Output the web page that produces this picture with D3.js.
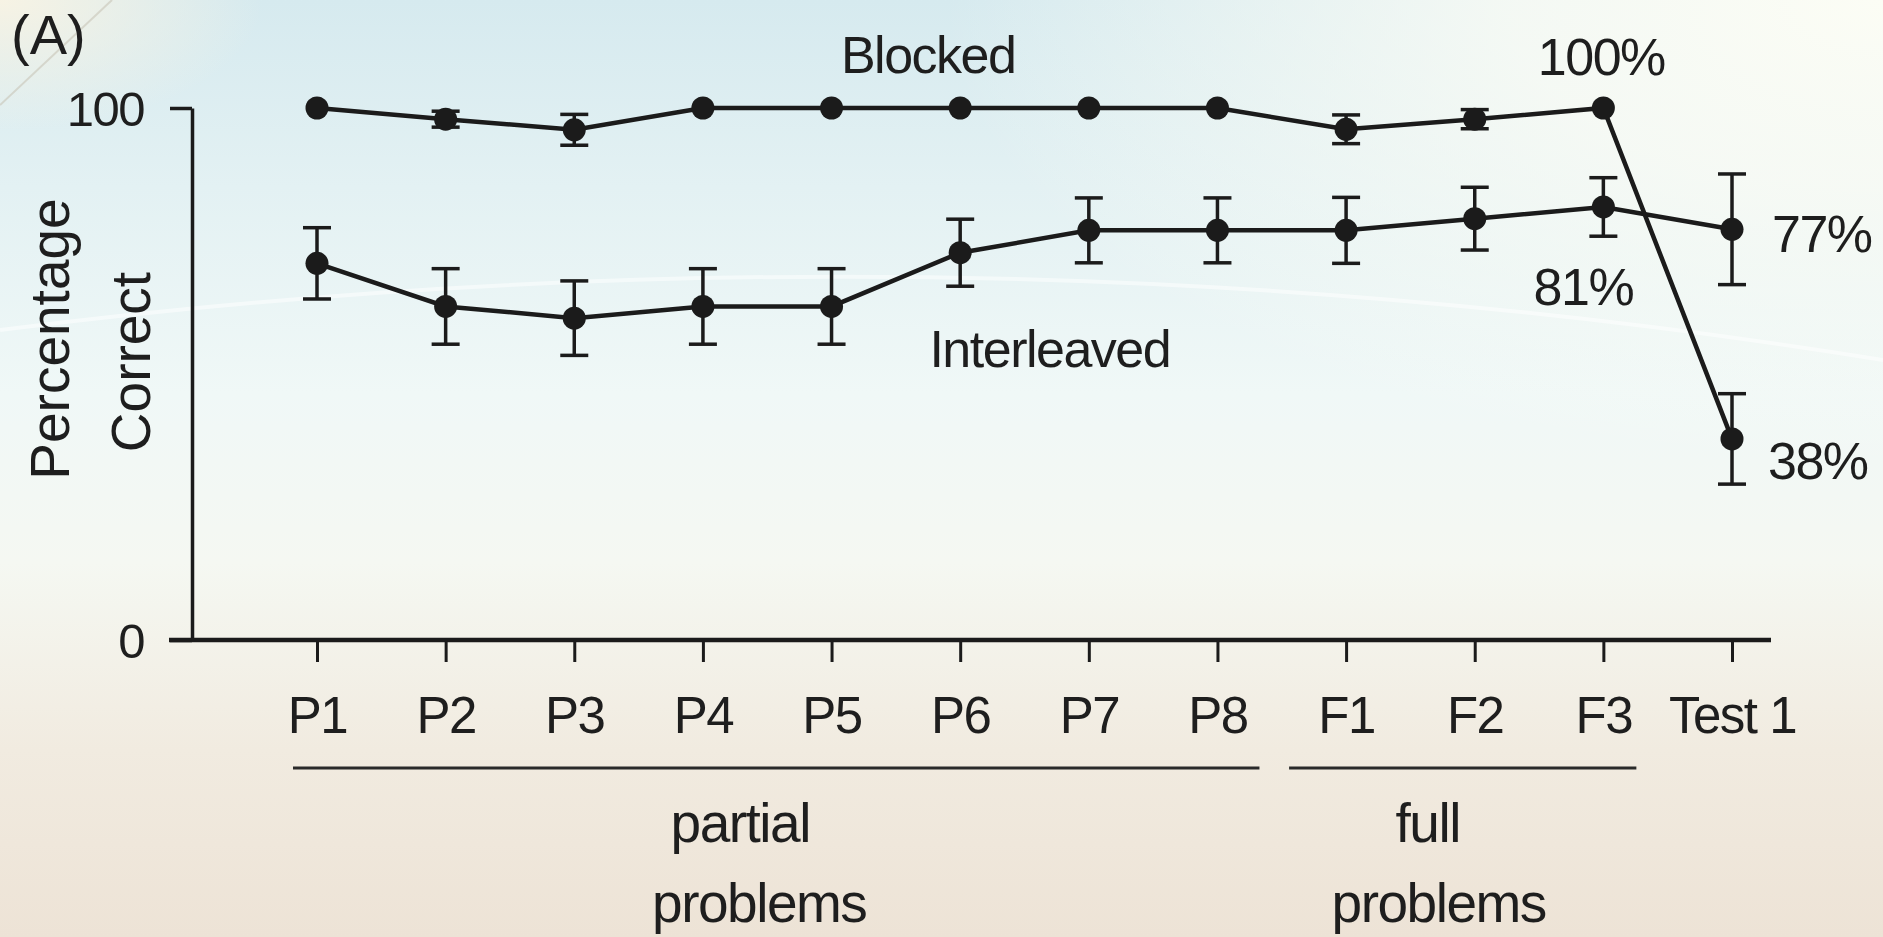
<!DOCTYPE html>
<html><head><meta charset="utf-8">
<script src="https://cdn.jsdelivr.net/npm/d3@7"></script>
<style>
html,body{margin:0;padding:0;overflow:hidden;background:#f3f6f1;}
svg text{font-family:"Liberation Sans",Arial,Helvetica,sans-serif;fill:#1e1e1e;}
</style></head>
<body>
<svg id="chart" width="1883" height="937"></svg>
<script>
// ---- data ----
const categories = ["P1","P2","P3","P4","P5","P6","P7","P8","F1","F2","F3","Test 1"];
const blocked = [100, 97.9, 95.9, 100, 100, 100, 100, 100, 96.0, 97.9, 100, 37.8];
const blockedErr = [0, 1.5, 2.9, 0, 0, 0, 0, 0, 2.7, 1.8, 0, 8.5];
const interleaved = [70.8, 62.7, 60.5, 62.7, 62.7, 72.8, 77.0, 77.0, 77.0, 79.2, 81.4, 77.2];
const interleavedErr = [6.7, 7.1, 7.0, 7.1, 7.1, 6.3, 6.1, 6.1, 6.2, 5.9, 5.5, 10.4];
const yTicks = [0, 100];
const groups = [
  {from:"P1", to:"P8", lines:["partial","problems"]},
  {from:"F1", to:"F3", lines:["full","problems"]}
];
const endLabels = [
  {text:"100%", cat:"F3", value:100},
  {text:"81%", cat:"F3", value:81.4},
  {text:"77%", cat:"Test 1", value:77.2},
  {text:"38%", cat:"Test 1", value:37.8}
];

// ---- layout ----
const W = 1883, H = 937;
const svg = d3.select("#chart");
const defs = svg.append("defs");

// background
const lg = defs.append("linearGradient").attr("id","bg").attr("x1",0).attr("y1",0).attr("x2",0).attr("y2",1);
[[0,"#d6eaef"],[0.2,"#e3f1f3"],[0.42,"#f0f8f7"],[0.6,"#f5f8f2"],[0.8,"#f1ebe0"],[1,"#ede3d6"]]
  .forEach(([o,c])=>lg.append("stop").attr("offset",o).attr("stop-color",c));
svg.append("rect").attr("width",W).attr("height",H).attr("fill","url(#bg)");
const rg1 = defs.append("radialGradient").attr("id","tr").attr("cx",1).attr("cy",0).attr("r",0.5);
rg1.append("stop").attr("offset",0).attr("stop-color","#fcfdf5").attr("stop-opacity",1);
rg1.append("stop").attr("offset",0.4).attr("stop-color","#fbfcf5").attr("stop-opacity",0.8);
rg1.append("stop").attr("offset",1).attr("stop-color","#fcfdf5").attr("stop-opacity",0);
svg.append("rect").attr("width",W).attr("height",H).attr("fill","url(#tr)");
const rg2 = defs.append("radialGradient").attr("id","tl").attr("cx",0).attr("cy",0).attr("r",0.14);
rg2.append("stop").attr("offset",0).attr("stop-color","#f7f3e4").attr("stop-opacity",1);
rg2.append("stop").attr("offset",1).attr("stop-color","#f7f3e4").attr("stop-opacity",0);
svg.append("rect").attr("width",W).attr("height",H).attr("fill","url(#tl)");
// faint streaks
svg.append("line").attr("x1",0).attr("y1",105).attr("x2",112).attr("y2",0)
  .attr("stroke","#c9c6b8").attr("stroke-width",2).attr("opacity",0.6);
svg.append("path").attr("d","M0,330 Q950,210 1883,360").attr("fill","none")
  .attr("stroke","#ffffff").attr("stroke-width",4).attr("opacity",0.5);

const x = d3.scalePoint().domain(categories).range([317, 1732]);
const y = d3.scaleLinear().domain([0,100]).range([640,108]);
const axisX0 = 192;

const ink = "#1b1b1b";

// y axis
const gy = svg.append("g").attr("transform",`translate(${axisX0},0)`)
  .call(d3.axisLeft(y).tickValues(yTicks).tickSize(22).tickSizeOuter(0).tickPadding(26));
gy.select(".domain").attr("stroke",ink).attr("stroke-width",3.5);
gy.selectAll(".tick line").attr("stroke",ink).attr("stroke-width",3.5);
gy.selectAll(".tick text").attr("font-size",49).attr("fill","#1e1e1e").attr("letter-spacing",-1.5)
  .attr("dy","0.36em");

// x axis
const gx = svg.append("g").attr("transform",`translate(0,${y(0)})`)
  .call(d3.axisBottom(x).tickSize(22).tickPadding(34));
gx.select(".domain").remove();
gx.insert("line",":first-child").attr("x1",axisX0-23).attr("x2",x("Test 1")+39)
  .attr("y1",0).attr("y2",0).attr("stroke",ink).attr("stroke-width",4.5);
gx.selectAll(".tick line").attr("stroke",ink).attr("stroke-width",3);
gx.selectAll(".tick text").attr("font-size",51).attr("fill","#1e1e1e")
  .attr("letter-spacing",-1.5).attr("dy","0.72em");

// y title
const yt = svg.append("g");
yt.append("text").attr("transform",`translate(69,${y(0)-301}) rotate(-90)`)
  .attr("text-anchor","middle").attr("font-size",55).text("Percentage");
yt.append("text").attr("transform",`translate(150,${y(0)-278}) rotate(-90)`)
  .attr("text-anchor","middle").attr("font-size",55).text("Correct");

// panel label
svg.append("text").attr("x",11).attr("y",54).attr("font-size",56).text("(A)");

// series
function drawSeries(vals, errs){
  const pts = categories.map((c,i)=>({c, v:vals[i], e:errs[i]}));
  const line = d3.line().x(d=>x(d.c)).y(d=>y(d.v));
  const g = svg.append("g");
  g.append("path").datum(pts).attr("d",line).attr("fill","none")
    .attr("stroke",ink).attr("stroke-width",4.5);
  const eb = g.selectAll(".eb").data(pts.filter(d=>d.e>0)).join("g");
  eb.append("line").attr("x1",d=>x(d.c)).attr("x2",d=>x(d.c))
    .attr("y1",d=>y(d.v+d.e)).attr("y2",d=>y(d.v-d.e)).attr("stroke",ink).attr("stroke-width",3.5);
  eb.append("line").attr("x1",d=>x(d.c)-14).attr("x2",d=>x(d.c)+14)
    .attr("y1",d=>y(d.v+d.e)).attr("y2",d=>y(d.v+d.e)).attr("stroke",ink).attr("stroke-width",3.5);
  eb.append("line").attr("x1",d=>x(d.c)-14).attr("x2",d=>x(d.c)+14)
    .attr("y1",d=>y(d.v-d.e)).attr("y2",d=>y(d.v-d.e)).attr("stroke",ink).attr("stroke-width",3.5);
  g.selectAll("circle").data(pts).join("circle")
    .attr("cx",d=>x(d.c)).attr("cy",d=>y(d.v)).attr("r",11.5).attr("fill",ink);
}
drawSeries(interleaved, interleavedErr);
drawSeries(blocked, blockedErr);

// series labels
svg.append("text").attr("x",x("P6")-32).attr("y",y(100)-35)
  .attr("text-anchor","middle").attr("font-size",52).attr("letter-spacing",-1.5).text("Blocked");
svg.append("text").attr("x",x("P7")-39).attr("y",y(50)-7)
  .attr("text-anchor","middle").attr("font-size",52).attr("letter-spacing",-1.5).text("Interleaved");

// end value labels
const endPos = {
  "100%": {dx:-2, dy:-33, anchor:"middle"},
  "81%":  {dx:-20, dy:98, anchor:"middle"},
  "77%":  {dx:40, dy:23, anchor:"start"},
  "38%":  {dx:36, dy:40, anchor:"start"}
};
svg.append("g").selectAll("text").data(endLabels).join("text")
  .attr("font-size",52).attr("letter-spacing",-1.5)
  .attr("text-anchor",d=>endPos[d.text].anchor)
  .attr("x",d=>x(d.cat)+endPos[d.text].dx)
  .attr("y",d=>y(d.value)+endPos[d.text].dy)
  .text(d=>d.text);

// group brackets
const gg = svg.append("g").selectAll("g").data(groups).join("g");
gg.append("line")
  .attr("x1",d=>x(d.from)-(d.to==="P8"?24:57)).attr("x2",d=>x(d.to)+(d.to==="P8"?42:33))
  .attr("y1",768).attr("y2",768).attr("stroke","#2a2a2a").attr("stroke-width",3);
gg.append("text").attr("text-anchor","middle").attr("font-size",55).attr("letter-spacing",-1.5)
  .attr("x",d=>(x(d.from)+x(d.to))/2 + (d.to==="P8"? -27 : -47))
  .attr("y",842).text(d=>d.lines[0]);
gg.append("text").attr("text-anchor","middle").attr("font-size",55).attr("letter-spacing",-1.5)
  .attr("x",d=>(x(d.from)+x(d.to))/2 + (d.to==="P8"? -8 : -36))
  .attr("y",922).text(d=>d.lines[1]);
</script>
</body></html>
